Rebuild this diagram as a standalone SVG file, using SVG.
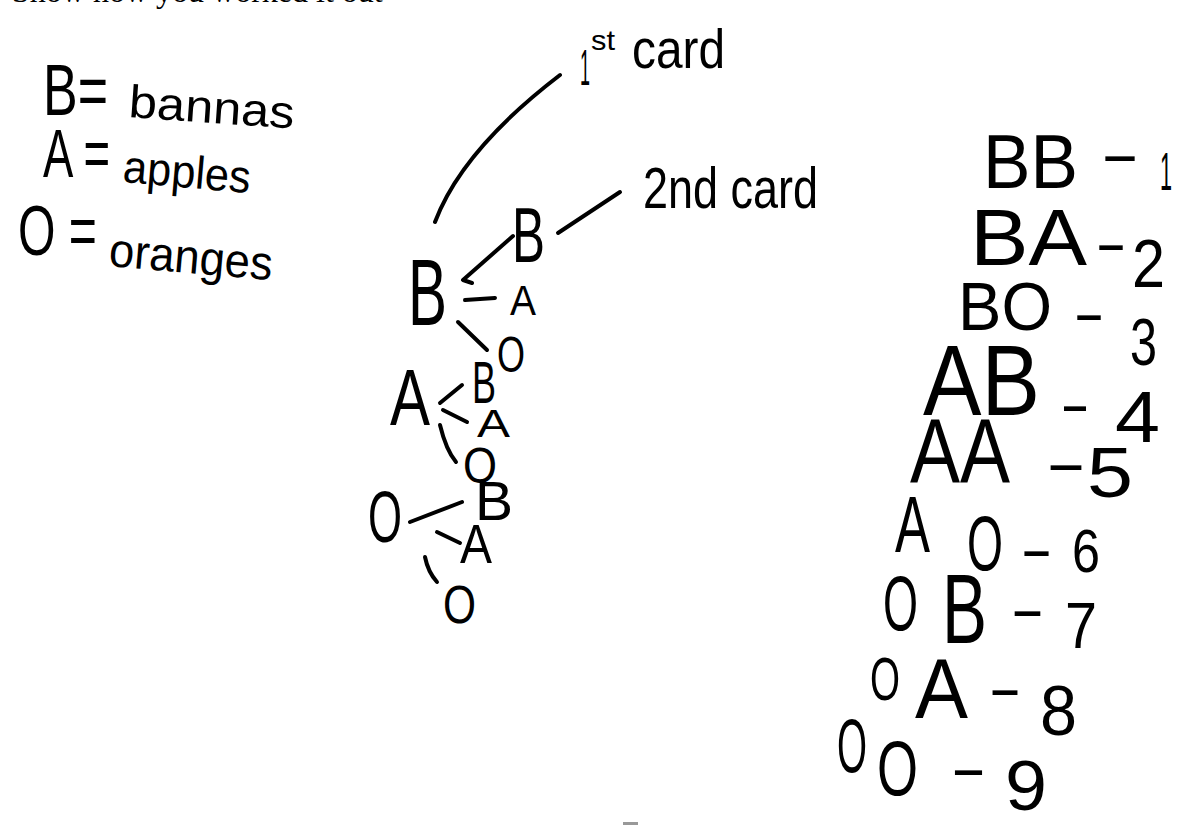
<svg xmlns="http://www.w3.org/2000/svg" width="1189" height="825" viewBox="0 0 1189 825">
<style>
.hw{font-family:"Liberation Sans",Arial,sans-serif;fill:#000}
.pr{font-family:"Liberation Serif","Times New Roman",serif;fill:#000}
.ln{fill:none;stroke:#000;stroke-width:4;stroke-linecap:round;stroke-linejoin:round}
</style>
<rect width="1189" height="825" fill="#fff"/>
<text class="pr" x="12" y="2" font-size="32">Show how you worked it out</text>

<g id="legend">
<text class="hw" x="43" y="115" font-size="72" textLength="65" lengthAdjust="spacingAndGlyphs">B=</text>
<text class="hw" x="128" y="117" font-size="46" textLength="166" lengthAdjust="spacingAndGlyphs" transform="rotate(4 128 117)">bannas</text>
<text class="hw" x="43" y="177" font-size="68" textLength="67" lengthAdjust="spacingAndGlyphs">A =</text>
<text class="hw" x="122" y="182" font-size="46" textLength="128" lengthAdjust="spacingAndGlyphs" transform="rotate(5 122 182)">apples</text>
<text class="hw" x="18" y="255" font-size="70" textLength="79" lengthAdjust="spacingAndGlyphs">O =</text>
<text class="hw" x="108" y="266" font-size="48" textLength="164" lengthAdjust="spacingAndGlyphs" transform="rotate(5 108 266)">oranges</text>
</g>

<g id="labels">
<text class="hw" font-size="56"><tspan x="580" y="85" font-size="50" textLength="10" lengthAdjust="spacingAndGlyphs">1</tspan><tspan x="591" y="50" font-size="28" textLength="24" lengthAdjust="spacingAndGlyphs">st</tspan><tspan x="632" y="68" textLength="93" lengthAdjust="spacingAndGlyphs">card</tspan></text>
<text class="hw" x="643" y="208" font-size="58" textLength="175" lengthAdjust="spacingAndGlyphs">2nd card</text>
</g>

<g id="connectors">
<path class="ln" d="M435,222 Q462,150 560,75"/>
<path class="ln" d="M558,233 L620,192"/>
<path class="ln" d="M513,236 L463,280 L472,283"/>
<path class="ln" d="M465,300 L495,298"/>
<path class="ln" d="M458,322 L487,350"/>
<path class="ln" d="M462,385 L440,403"/>
<path class="ln" d="M443,410 L467,422"/>
<path class="ln" d="M440,425 Q446,450 456,462"/>
<path class="ln" d="M410,522 L462,502"/>
<path class="ln" d="M437,532 L460,543"/>
<path class="ln" d="M425,557 Q428,572 437,582"/>
</g>

<g id="node-B">
<text class="hw" x="408" y="325" font-size="95" textLength="39" lengthAdjust="spacingAndGlyphs">B</text>
</g>
<g id="node-BB">
<text class="hw" x="512" y="262" font-size="78" textLength="33" lengthAdjust="spacingAndGlyphs">B</text>
</g>
<g id="node-BA">
<text class="hw" x="510" y="315" font-size="42" textLength="26" lengthAdjust="spacingAndGlyphs">A</text>
</g>
<g id="node-BO">
<text class="hw" x="497" y="372" font-size="50" textLength="28" lengthAdjust="spacingAndGlyphs">O</text>
</g>
<g id="node-A">
<text class="hw" x="390" y="425" font-size="80" textLength="40" lengthAdjust="spacingAndGlyphs">A</text>
</g>
<g id="node-AB">
<text class="hw" x="472" y="403" font-size="60" textLength="24" lengthAdjust="spacingAndGlyphs">B</text>
</g>
<g id="node-AA">
<text class="hw" x="477" y="437" font-size="38" textLength="33" lengthAdjust="spacingAndGlyphs">A</text>
</g>
<g id="node-AO">
<text class="hw" x="463" y="483" font-size="50" textLength="34" lengthAdjust="spacingAndGlyphs">O</text>
</g>
<g id="node-O">
<text class="hw" x="368" y="542" font-size="72" textLength="34" lengthAdjust="spacingAndGlyphs">O</text>
</g>
<g id="node-OB">
<text class="hw" x="475" y="520" font-size="56" textLength="38" lengthAdjust="spacingAndGlyphs">B</text>
</g>
<g id="node-OA">
<text class="hw" x="460" y="563" font-size="55" textLength="32" lengthAdjust="spacingAndGlyphs">A</text>
</g>
<g id="node-OO">
<text class="hw" x="443" y="623" font-size="53" textLength="33" lengthAdjust="spacingAndGlyphs">O</text>
</g>

<g id="list">
<text id="row1" class="hw" font-size="60"><tspan x="983" y="188" font-size="76" textLength="95" lengthAdjust="spacingAndGlyphs">BB</tspan><tspan x="1100" y="174" textLength="40" lengthAdjust="spacingAndGlyphs">-</tspan><tspan x="1160" y="190" font-size="53" textLength="12" lengthAdjust="spacingAndGlyphs">1</tspan></text>
<text id="row2" class="hw" font-size="60"><tspan x="970" y="265" font-size="80" textLength="117" lengthAdjust="spacingAndGlyphs">BA</tspan><tspan x="1095" y="263" textLength="32" lengthAdjust="spacingAndGlyphs">-</tspan><tspan x="1132" y="287" font-size="68" textLength="33" lengthAdjust="spacingAndGlyphs">2</tspan></text>
<text id="row3" class="hw" font-size="60"><tspan x="958" y="330" font-size="68" textLength="94" lengthAdjust="spacingAndGlyphs">BO</tspan><tspan x="1073" y="333" textLength="32" lengthAdjust="spacingAndGlyphs">-</tspan><tspan x="1130" y="365" font-size="66" textLength="27" lengthAdjust="spacingAndGlyphs">3</tspan></text>
<text id="row4" class="hw" font-size="60"><tspan x="923" y="415" font-size="100" textLength="117" lengthAdjust="spacingAndGlyphs">AB</tspan><tspan x="1060" y="424" textLength="30" lengthAdjust="spacingAndGlyphs">-</tspan><tspan x="1115" y="442" font-size="72" textLength="45" lengthAdjust="spacingAndGlyphs">4</tspan></text>
<text id="row5" class="hw" font-size="60"><tspan x="910" y="482" font-size="90" textLength="100" lengthAdjust="spacingAndGlyphs">AA</tspan><tspan x="1045" y="483" textLength="42" lengthAdjust="spacingAndGlyphs">-</tspan><tspan x="1087" y="497" font-size="70" textLength="46" lengthAdjust="spacingAndGlyphs">5</tspan></text>
<text id="row6" class="hw" font-size="60"><tspan x="895" y="552" font-size="80" textLength="35" lengthAdjust="spacingAndGlyphs">A</tspan><tspan x="967" y="570" font-size="78" textLength="36" lengthAdjust="spacingAndGlyphs">O</tspan><tspan x="1020" y="569" textLength="33" lengthAdjust="spacingAndGlyphs">-</tspan><tspan x="1072" y="572" font-size="62" textLength="28" lengthAdjust="spacingAndGlyphs">6</tspan></text>
<text id="row7" class="hw" font-size="60"><tspan x="883" y="630" font-size="78" textLength="35" lengthAdjust="spacingAndGlyphs">O</tspan><tspan x="942" y="643" font-size="98" textLength="45" lengthAdjust="spacingAndGlyphs">B</tspan><tspan x="1010" y="629" textLength="35" lengthAdjust="spacingAndGlyphs">-</tspan><tspan x="1065" y="648" font-size="64" textLength="32" lengthAdjust="spacingAndGlyphs">7</tspan></text>
<text id="row8" class="hw" font-size="60"><tspan x="870" y="700" font-size="62" textLength="30" lengthAdjust="spacingAndGlyphs">O</tspan><tspan x="915" y="718" font-size="86" textLength="53" lengthAdjust="spacingAndGlyphs">A</tspan><tspan x="988" y="708" textLength="34" lengthAdjust="spacingAndGlyphs">-</tspan><tspan x="1040" y="735" font-size="70" textLength="37" lengthAdjust="spacingAndGlyphs">8</tspan></text>
<text id="row9" class="hw" font-size="60"><tspan x="837" y="772" font-size="76" textLength="30" lengthAdjust="spacingAndGlyphs">O</tspan><tspan x="877" y="795" font-size="78" textLength="41" lengthAdjust="spacingAndGlyphs">O</tspan><tspan x="950" y="788" textLength="37" lengthAdjust="spacingAndGlyphs">-</tspan><tspan x="1005" y="810" font-size="70" textLength="42" lengthAdjust="spacingAndGlyphs">9</tspan></text>
</g>
<rect x="623" y="822" width="15" height="3" fill="#999"/>
</svg>
